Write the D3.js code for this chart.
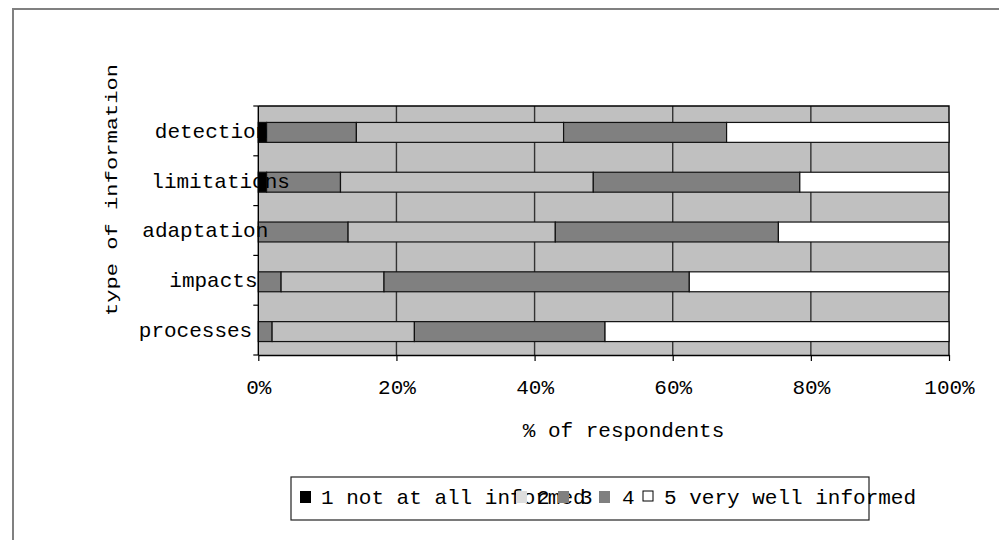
<!DOCTYPE html>
<html>
<head>
<meta charset="utf-8">
<script src="https://cdn.jsdelivr.net/npm/d3@7"></script>
<style>
  body { margin: 0; background: #fff; }
  text { font-family: "Liberation Mono", "Courier New", monospace; fill: #000; }
</style>
</head>
<body>
<svg id="chart" width="999" height="540"></svg>
<script>
// Survey answers: how well informed respondents feel, per type of information (% of respondents)
const categories = ["detection", "limitations", "adaptation", "impacts", "processes"];
const levelNames = ["1 not at all informed", "2", "3", "4", "5 very well informed"];
const level1 = [1.2, 1.2, 0, 0, 0];
const level2 = [13.0, 10.7, 13.0, 3.3, 2.0];
const level3 = [30.0, 36.6, 30.0, 14.9, 20.6];
const level4 = [23.6, 29.9, 32.3, 44.2, 27.6];
const level5 = [32.2, 21.6, 24.7, 37.6, 49.8];
const tickValues = [0, 20, 40, 60, 80, 100];
const tickLabels = ["0%", "20%", "40%", "60%", "80%", "100%"];

// Styling and layout
const segmentFill = ["#000000", "#808080", "#c0c0c0", "#808080", "#ffffff"];
const swatchFill = ["#000000", "#dddddd", "#808080", "#808080", "#ffffff"];
const plot = { left: 258.3, right: 949, top: 106, bottom: 355 };
const labelShift = [-103.5, -107, -116, -89, -119.5];     // category label start, relative to the axis
const legendSwatchX = [300, 516, 558, 599, 643];
const legendTextX = [321, 537, 580, 622, 664];
const fontSize = 21;

const levels = [level1, level2, level3, level4, level5];
const rows = categories.map((c, i) => {
  const r = { category: c };
  levels.forEach((arr, k) => r["L" + k] = arr[i]);
  return r;
});
const keys = levels.map((_, k) => "L" + k);

const svg = d3.select("#chart");
svg.append("rect").attr("width", 999).attr("height", 540).attr("fill", "#fff");

// chart frame
svg.append("rect")
  .attr("x", 13).attr("y", 9).attr("width", 1000).attr("height", 600)
  .attr("fill", "none").attr("stroke", "#808080").attr("stroke-width", 2);

const x = d3.scaleLinear().domain([0, 100]).range([plot.left, plot.right]);
const y = d3.scaleBand().domain(categories).range([plot.top, plot.bottom]).padding(0);

// plot area
svg.append("rect")
  .attr("x", plot.left).attr("y", plot.top)
  .attr("width", plot.right - plot.left).attr("height", plot.bottom - plot.top)
  .attr("fill", "#c0c0c0");

svg.append("g").selectAll("line")
  .data(tickValues.slice(1, -1))
  .join("line")
  .attr("x1", d => x(d)).attr("x2", d => x(d))
  .attr("y1", plot.top).attr("y2", plot.bottom)
  .attr("stroke", "#333").attr("stroke-width", 1.4);

// top and right edges of the plot area
svg.append("path")
  .attr("d", `M${plot.left},${plot.top}H${plot.right}V${plot.bottom}`)
  .attr("fill", "none").attr("stroke", "#000").attr("stroke-width", 1.4);

// stacked bars
const stacked = d3.stack().keys(keys)(rows);
const barTop = c => y(c) + y.bandwidth() * 0.33;
const barH = y.bandwidth() * 0.4;

svg.append("g").selectAll("g")
  .data(stacked)
  .join("g")
  .attr("fill", (d, k) => segmentFill[k])
  .selectAll("rect")
  .data(d => d.filter(s => s[1] - s[0] > 0))
  .join("rect")
  .attr("x", s => x(s[0]))
  .attr("width", s => x(s[1]) - x(s[0]))
  .attr("y", s => barTop(s.data.category))
  .attr("height", barH)
  .attr("stroke", "#111").attr("stroke-width", 1.2);

// category axis
svg.append("line")
  .attr("x1", plot.left).attr("x2", plot.left)
  .attr("y1", plot.top).attr("y2", plot.bottom)
  .attr("stroke", "#000").attr("stroke-width", 1.4);
svg.append("g").selectAll("line")
  .data(categories.map(c => y(c)).concat([plot.bottom]))
  .join("line")
  .attr("x1", plot.left - 5).attr("x2", plot.left)
  .attr("y1", d => d).attr("y2", d => d)
  .attr("stroke", "#000").attr("stroke-width", 1.2);

svg.append("g").selectAll("text")
  .data(categories)
  .join("text")
  .attr("x", (c, i) => plot.left + labelShift[i])
  .attr("y", c => barTop(c) + barH / 2 + 5.5)
  .attr("font-size", fontSize)
  .text(c => c);

// value axis
const xAxis = d3.axisBottom(x)
  .tickValues(tickValues)
  .tickFormat((d, i) => tickLabels[i])
  .tickSizeInner(6).tickSizeOuter(0)
  .tickPadding(18);
const gx = svg.append("g").attr("transform", `translate(0,${plot.bottom})`).call(xAxis);
gx.select(".domain").attr("stroke", "#000").attr("stroke-width", 1.4);
gx.selectAll(".tick line").attr("stroke", "#000").attr("stroke-width", 1.2);
gx.selectAll(".tick text")
  .attr("font-family", "Liberation Mono, Courier New, monospace")
  .attr("font-size", fontSize).attr("fill", "#000");

// axis titles
svg.append("text")
  .attr("x", 623.5).attr("y", 437)
  .attr("text-anchor", "middle").attr("font-size", fontSize)
  .text("% of respondents");

svg.append("text")
  .attr("transform", "translate(117,190) rotate(-90)")
  .attr("text-anchor", "middle").attr("font-size", 16)
  .attr("textLength", 252).attr("lengthAdjust", "spacingAndGlyphs")
  .text("type of information");

// legend
const lg = svg.append("g");
lg.append("rect")
  .attr("x", 291).attr("y", 477).attr("width", 578).attr("height", 43)
  .attr("fill", "#fff").attr("stroke", "#222").attr("stroke-width", 1.2);
levelNames.forEach((name, k) => {
  lg.append("rect")
    .attr("x", legendSwatchX[k]).attr("y", 491)
    .attr("width", k === 4 ? 10 : 11).attr("height", k === 4 ? 10 : 12)
    .attr("fill", swatchFill[k])
    .attr("stroke", k === 4 ? "#000" : "none").attr("stroke-width", 1);
  lg.append("text")
    .attr("x", legendTextX[k]).attr("y", 504)
    .attr("font-size", fontSize)
    .text(name);
});
</script>
</body>
</html>
